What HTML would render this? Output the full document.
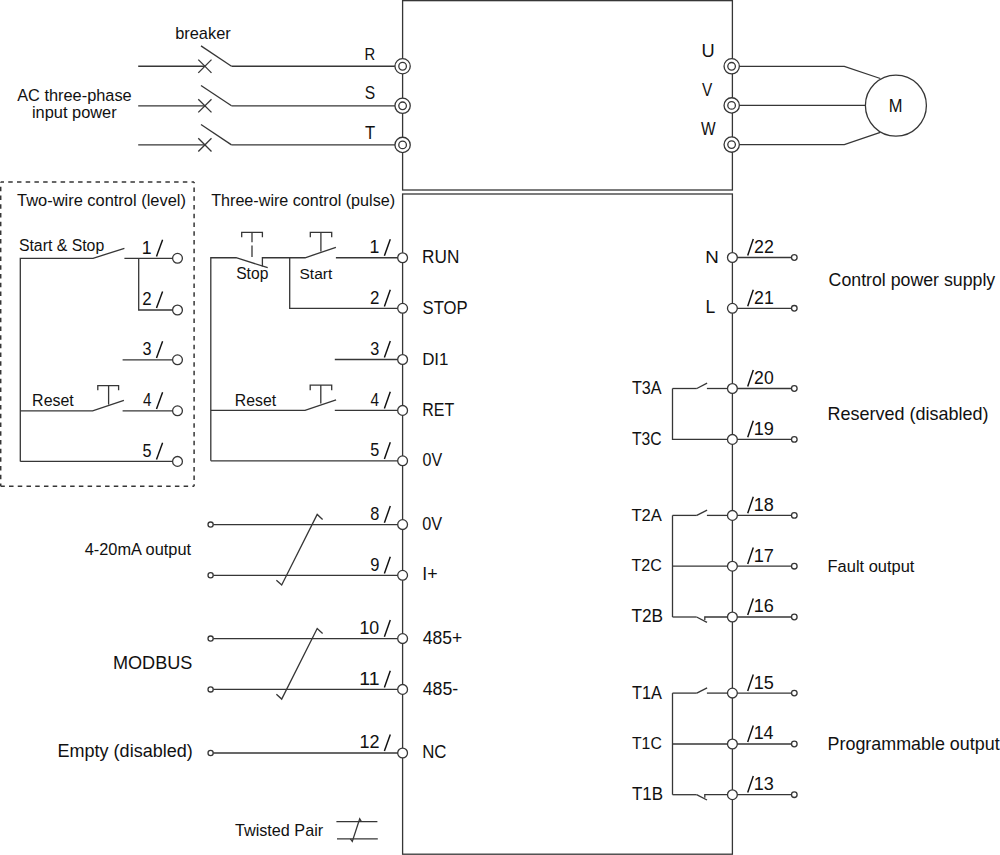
<!DOCTYPE html>
<html><head><meta charset="utf-8"><style>
html,body{margin:0;padding:0;background:#fff;width:1000px;height:855px;overflow:hidden}
svg{display:block}
text{font-family:"Liberation Sans",sans-serif;fill:#111}
</style></head><body>
<svg width="1000" height="855" viewBox="0 0 1000 855">
<rect width="1000" height="855" fill="#fff"/>
<g fill="none" stroke="#363636" stroke-width="1.3" stroke-linecap="butt" stroke-linejoin="miter">
<rect x="402.6" y="0.65" width="329.80" height="189.35" fill="none"/>
<rect x="402.6" y="194" width="329.80" height="660.2" fill="none"/>
<line x1="138.20" y1="66.25" x2="204.90" y2="66.25"/>
<line x1="198.30" y1="59.65" x2="211.50" y2="72.85"/>
<line x1="198.30" y1="72.85" x2="211.50" y2="59.65"/>
<line x1="201.00" y1="45.90" x2="231.50" y2="66.25"/>
<line x1="231.50" y1="66.25" x2="402.60" y2="66.25"/>
<circle cx="402.60" cy="66.25" r="7.65" fill="#fff"/>
<circle cx="402.60" cy="66.25" r="3.80" fill="#fff"/>
<line x1="138.20" y1="105.80" x2="204.90" y2="105.80"/>
<line x1="198.30" y1="99.20" x2="211.50" y2="112.40"/>
<line x1="198.30" y1="112.40" x2="211.50" y2="99.20"/>
<line x1="201.00" y1="85.45" x2="231.50" y2="105.80"/>
<line x1="231.50" y1="105.80" x2="402.60" y2="105.80"/>
<circle cx="402.60" cy="105.80" r="7.65" fill="#fff"/>
<circle cx="402.60" cy="105.80" r="3.80" fill="#fff"/>
<line x1="138.20" y1="144.90" x2="204.90" y2="144.90"/>
<line x1="198.30" y1="138.30" x2="211.50" y2="151.50"/>
<line x1="198.30" y1="151.50" x2="211.50" y2="138.30"/>
<line x1="201.00" y1="124.55" x2="231.50" y2="144.90"/>
<line x1="231.50" y1="144.90" x2="402.60" y2="144.90"/>
<circle cx="402.60" cy="144.90" r="7.65" fill="#fff"/>
<circle cx="402.60" cy="144.90" r="3.80" fill="#fff"/>
<polyline points="732.40,66.30 844.30,66.30 880.30,78.50"/>
<line x1="732.40" y1="105.40" x2="865.40" y2="105.40"/>
<polyline points="732.40,144.60 844.30,144.60 880.30,132.40"/>
<circle cx="895.90" cy="105.60" r="30.50" fill="#fff"/>
<circle cx="731.70" cy="66.30" r="7.65" fill="#fff"/>
<circle cx="731.60" cy="66.30" r="3.80" fill="#fff"/>
<circle cx="731.70" cy="105.40" r="7.65" fill="#fff"/>
<circle cx="731.60" cy="105.40" r="3.80" fill="#fff"/>
<circle cx="731.70" cy="144.60" r="7.65" fill="#fff"/>
<circle cx="731.60" cy="144.60" r="3.80" fill="#fff"/>
<path d="M0.7,182 H194.1" fill="none" stroke-width="1.5" stroke-dasharray="4.5 4.23" stroke-dashoffset="1.2"/>
<path d="M194.1,182 V486.3" fill="none" stroke-width="1.5" stroke-dasharray="4.5 4.23" stroke-dashoffset="3.2"/>
<path d="M0.7,182 V486.3" fill="none" stroke-width="1.5" stroke-dasharray="4.5 4.23" stroke-dashoffset="4.0"/>
<path d="M0.7,486.3 H194.1" fill="none" stroke-width="1.5" stroke-dasharray="4.5 4.23" stroke-dashoffset="0.4"/>
<polyline points="20.30,461.40 20.30,258.30 93.00,258.30 124.40,248.40"/>
<line x1="124.40" y1="258.30" x2="177.50" y2="258.30"/>
<polyline points="138.70,258.30 138.70,310.00 177.50,310.00"/>
<line x1="122.60" y1="359.80" x2="177.50" y2="359.80"/>
<polyline points="20.30,410.80 92.60,410.80 123.90,400.30"/>
<line x1="122.60" y1="410.80" x2="177.50" y2="410.80"/>
<polyline points="97.80,390.30 97.80,385.60 118.60,385.60 118.60,390.30"/>
<line x1="108.60" y1="385.60" x2="108.60" y2="404.60"/>
<line x1="20.30" y1="461.40" x2="177.50" y2="461.40"/>
<circle cx="177.50" cy="258.30" r="4.90" fill="#fff"/>
<circle cx="177.50" cy="310.00" r="4.90" fill="#fff"/>
<circle cx="177.50" cy="359.80" r="4.90" fill="#fff"/>
<circle cx="177.50" cy="410.80" r="4.90" fill="#fff"/>
<circle cx="177.50" cy="461.40" r="4.90" fill="#fff"/>
<polyline points="210.80,460.80 210.80,257.75 236.10,257.75 267.70,267.70"/>
<polyline points="262.40,266.60 262.40,257.75 305.10,257.75 335.90,247.40"/>
<line x1="335.90" y1="257.75" x2="402.60" y2="257.75"/>
<polyline points="289.70,257.75 289.70,308.30 402.60,308.30"/>
<polyline points="241.70,237.30 241.70,232.30 262.40,232.30 262.40,237.30"/>
<line x1="252.00" y1="232.30" x2="252.00" y2="242.20"/>
<line x1="252.00" y1="245.60" x2="252.00" y2="257.00"/>
<polyline points="310.30,237.30 310.30,232.30 331.70,232.30 331.70,237.30"/>
<line x1="320.90" y1="232.30" x2="320.90" y2="251.60"/>
<line x1="334.80" y1="359.50" x2="402.60" y2="359.50"/>
<polyline points="210.80,410.40 305.00,410.40 336.10,399.80"/>
<line x1="334.80" y1="410.40" x2="402.60" y2="410.40"/>
<polyline points="310.20,390.30 310.20,385.10 331.70,385.10 331.70,390.30"/>
<line x1="320.80" y1="385.10" x2="320.80" y2="403.60"/>
<line x1="210.80" y1="460.80" x2="402.60" y2="460.80"/>
<line x1="213.20" y1="524.60" x2="402.60" y2="524.60"/>
<circle cx="210.60" cy="524.60" r="2.60" fill="#fff"/>
<line x1="213.20" y1="575.30" x2="402.60" y2="575.30"/>
<circle cx="210.60" cy="575.30" r="2.60" fill="#fff"/>
<line x1="213.20" y1="638.60" x2="402.60" y2="638.60"/>
<circle cx="210.60" cy="638.60" r="2.60" fill="#fff"/>
<line x1="213.20" y1="689.40" x2="402.60" y2="689.40"/>
<circle cx="210.60" cy="689.40" r="2.60" fill="#fff"/>
<line x1="213.20" y1="753.00" x2="402.60" y2="753.00"/>
<circle cx="210.60" cy="753.00" r="2.60" fill="#fff"/>
<polyline points="276.40,580.20 281.70,585.00 317.20,514.40 322.60,519.40"/>
<polyline points="276.40,694.30 281.70,699.10 317.20,628.50 322.60,633.50"/>
<line x1="336.40" y1="821.70" x2="377.40" y2="821.70"/>
<line x1="337.00" y1="838.90" x2="377.80" y2="838.90"/>
<polyline points="350.40,838.90 352.30,841.40 359.70,818.80 361.40,821.60"/>
<circle cx="402.60" cy="257.75" r="4.90" fill="#fff"/>
<circle cx="402.60" cy="308.30" r="4.90" fill="#fff"/>
<circle cx="402.60" cy="359.50" r="4.90" fill="#fff"/>
<circle cx="402.60" cy="410.40" r="4.90" fill="#fff"/>
<circle cx="402.60" cy="460.80" r="4.90" fill="#fff"/>
<circle cx="402.60" cy="524.60" r="4.90" fill="#fff"/>
<circle cx="402.60" cy="575.30" r="4.90" fill="#fff"/>
<circle cx="402.60" cy="638.60" r="4.90" fill="#fff"/>
<circle cx="402.60" cy="689.40" r="4.90" fill="#fff"/>
<circle cx="402.60" cy="753.00" r="4.90" fill="#fff"/>
<line x1="732.40" y1="257.50" x2="791.50" y2="257.50"/>
<circle cx="794.30" cy="257.50" r="2.80" fill="#fff"/>
<line x1="732.40" y1="308.30" x2="791.50" y2="308.30"/>
<circle cx="794.30" cy="308.30" r="2.80" fill="#fff"/>
<line x1="732.40" y1="388.50" x2="791.50" y2="388.50"/>
<circle cx="794.30" cy="388.50" r="2.80" fill="#fff"/>
<line x1="732.40" y1="439.40" x2="791.50" y2="439.40"/>
<circle cx="794.30" cy="439.40" r="2.80" fill="#fff"/>
<line x1="732.40" y1="515.40" x2="791.50" y2="515.40"/>
<circle cx="794.30" cy="515.40" r="2.80" fill="#fff"/>
<line x1="732.40" y1="566.20" x2="791.50" y2="566.20"/>
<circle cx="794.30" cy="566.20" r="2.80" fill="#fff"/>
<line x1="732.40" y1="617.00" x2="791.50" y2="617.00"/>
<circle cx="794.30" cy="617.00" r="2.80" fill="#fff"/>
<line x1="732.40" y1="693.10" x2="791.50" y2="693.10"/>
<circle cx="794.30" cy="693.10" r="2.80" fill="#fff"/>
<line x1="732.40" y1="744.00" x2="791.50" y2="744.00"/>
<circle cx="794.30" cy="744.00" r="2.80" fill="#fff"/>
<line x1="732.40" y1="794.70" x2="791.50" y2="794.70"/>
<circle cx="794.30" cy="794.70" r="2.80" fill="#fff"/>
<line x1="672.50" y1="388.50" x2="696.80" y2="388.50"/>
<line x1="696.80" y1="388.50" x2="707.10" y2="383.20"/>
<line x1="706.90" y1="388.50" x2="732.40" y2="388.50"/>
<polyline points="672.50,388.50 672.50,439.40 732.40,439.40"/>
<line x1="672.50" y1="515.40" x2="696.80" y2="515.40"/>
<line x1="696.80" y1="515.40" x2="707.10" y2="510.10"/>
<line x1="706.90" y1="515.40" x2="732.40" y2="515.40"/>
<polyline points="672.50,515.40 672.50,617.00"/>
<line x1="672.50" y1="566.20" x2="732.40" y2="566.20"/>
<line x1="672.50" y1="617.00" x2="696.60" y2="617.00"/>
<line x1="696.60" y1="617.00" x2="707.00" y2="622.30"/>
<polyline points="704.80,620.00 704.80,617.00 732.40,617.00"/>
<line x1="672.50" y1="693.10" x2="696.80" y2="693.10"/>
<line x1="696.80" y1="693.10" x2="707.10" y2="687.80"/>
<line x1="706.90" y1="693.10" x2="732.40" y2="693.10"/>
<polyline points="672.50,693.10 672.50,794.70"/>
<line x1="672.50" y1="744.00" x2="732.40" y2="744.00"/>
<line x1="672.50" y1="794.70" x2="696.60" y2="794.70"/>
<line x1="696.60" y1="794.70" x2="707.00" y2="800.00"/>
<polyline points="704.80,797.70 704.80,794.70 732.40,794.70"/>
<circle cx="732.40" cy="257.50" r="4.90" fill="#fff"/>
<circle cx="732.40" cy="308.30" r="4.90" fill="#fff"/>
<circle cx="732.40" cy="388.50" r="4.90" fill="#fff"/>
<circle cx="732.40" cy="439.40" r="4.90" fill="#fff"/>
<circle cx="732.40" cy="515.40" r="4.90" fill="#fff"/>
<circle cx="732.40" cy="566.20" r="4.90" fill="#fff"/>
<circle cx="732.40" cy="617.00" r="4.90" fill="#fff"/>
<circle cx="732.40" cy="693.10" r="4.90" fill="#fff"/>
<circle cx="732.40" cy="744.00" r="4.90" fill="#fff"/>
<circle cx="732.40" cy="794.70" r="4.90" fill="#fff"/>
</g>
<g>
<text transform="translate(175.13,38.90) scale(1.0000,1)" font-size="16.40">breaker</text>
<text transform="translate(17.20,101.00) scale(1.0000,1)" font-size="16.35">AC three-phase</text>
<text transform="translate(31.93,117.50) scale(1.0000,1)" font-size="16.40">input power</text>
<text transform="translate(17.07,205.50) scale(1.0000,1)" font-size="16.43">Two-wire control (level)</text>
<text transform="translate(211.18,205.60) scale(1.0000,1)" font-size="16.15">Three-wire control (pulse)</text>
<text transform="translate(18.89,251.00) scale(1.0000,1)" font-size="15.83">Start &amp; Stop</text>
<text transform="translate(32.12,405.60) scale(1.0000,1)" font-size="15.96">Reset</text>
<text transform="translate(236.20,279.30) scale(1.0000,1)" font-size="15.63">Stop</text>
<text transform="translate(299.50,279.00) scale(1.0000,1)" font-size="15.49">Start</text>
<text transform="translate(234.84,405.70) scale(1.0000,1)" font-size="15.80">Reset</text>
<text transform="translate(84.67,555.00) scale(1.0000,1)" font-size="16.37">4-20mA output</text>
<text transform="translate(112.95,669.00) scale(1.0000,1)" font-size="18.12">MODBUS</text>
<text transform="translate(57.56,757.00) scale(1.0000,1)" font-size="18.02">Empty (disabled)</text>
<text transform="translate(234.98,836.40) scale(1.0000,1)" font-size="16.21">Twisted Pair</text>
<text transform="translate(828.61,285.70) scale(1.0000,1)" font-size="17.74">Control power supply</text>
<text transform="translate(827.46,419.60) scale(1.0000,1)" font-size="17.99">Reserved (disabled)</text>
<text transform="translate(827.58,571.80) scale(1.0000,1)" font-size="16.46">Fault output</text>
<text transform="translate(827.57,749.50) scale(1.0000,1)" font-size="17.90">Programmable output</text>
<text transform="translate(364.62,60.20) scale(0.8504,1)" font-size="17.39">R</text>
<text transform="translate(364.70,99.20) scale(0.8696,1)" font-size="18.00">S</text>
<text transform="translate(365.07,138.60) scale(0.9200,1)" font-size="18.12">T</text>
<text transform="translate(701.43,56.80) scale(0.9684,1)" font-size="18.84">U</text>
<text transform="translate(702.12,95.80) scale(0.8444,1)" font-size="18.26">V</text>
<text transform="translate(700.92,134.90) scale(0.8629,1)" font-size="17.97">W</text>
<text transform="translate(888.68,111.70) scale(0.9177,1)" font-size="17.97">M</text>
<text transform="translate(422.12,263.10) scale(0.9575,1)" font-size="17.97">RUN</text>
<text transform="translate(422.55,313.50) scale(0.9485,1)" font-size="17.57">STOP</text>
<text transform="translate(422.15,364.60) scale(0.9896,1)" font-size="17.10">DI1</text>
<text transform="translate(422.22,415.50) scale(0.9049,1)" font-size="17.68">RET</text>
<text transform="translate(422.56,466.30) scale(0.9080,1)" font-size="17.71">0V</text>
<text transform="translate(422.25,529.60) scale(0.9031,1)" font-size="18.00">0V</text>
<text transform="translate(422.30,580.30) scale(0.9901,1)" font-size="17.97">I+</text>
<text transform="translate(422.65,644.00) scale(0.9895,1)" font-size="17.71">485+</text>
<text transform="translate(422.64,695.00) scale(1.0121,1)" font-size="17.57">485-</text>
<text transform="translate(422.15,758.10) scale(0.9578,1)" font-size="17.57">NC</text>
<text transform="translate(705.30,262.60) scale(1.0781,1)" font-size="17.39">N</text>
<text transform="translate(705.40,313.40) scale(0.9913,1)" font-size="17.68">L</text>
<text transform="translate(631.98,393.80) scale(0.9288,1)" font-size="17.43">T3A</text>
<text transform="translate(631.99,444.60) scale(0.8998,1)" font-size="17.43">T3C</text>
<text transform="translate(631.47,520.70) scale(0.9621,1)" font-size="17.29">T2A</text>
<text transform="translate(631.48,571.40) scale(0.9372,1)" font-size="17.14">T2C</text>
<text transform="translate(631.45,622.10) scale(0.9830,1)" font-size="17.57">T2B</text>
<text transform="translate(631.97,698.60) scale(0.9326,1)" font-size="17.54">T1A</text>
<text transform="translate(631.98,749.40) scale(0.9136,1)" font-size="17.29">T1C</text>
<text transform="translate(631.96,800.10) scale(0.9688,1)" font-size="17.54">T1B</text>
<text transform="translate(141.87,253.50) scale(0.9850,1)" font-size="17.97">1</text>
<line x1="156.50" y1="256.40" x2="162.60" y2="239.70" stroke="#111" stroke-width="1.45"/>
<text transform="translate(142.35,305.20) scale(0.9553,1)" font-size="17.71">2</text>
<line x1="156.50" y1="308.10" x2="162.60" y2="291.40" stroke="#111" stroke-width="1.45"/>
<text transform="translate(142.55,355.00) scale(0.9151,1)" font-size="17.71">3</text>
<line x1="156.50" y1="357.90" x2="162.60" y2="341.20" stroke="#111" stroke-width="1.45"/>
<text transform="translate(142.90,406.00) scale(0.8485,1)" font-size="17.97">4</text>
<line x1="156.50" y1="408.90" x2="162.60" y2="392.20" stroke="#111" stroke-width="1.45"/>
<text transform="translate(142.55,456.60) scale(0.9020,1)" font-size="17.97">5</text>
<line x1="156.50" y1="459.50" x2="162.60" y2="442.80" stroke="#111" stroke-width="1.45"/>
<text transform="translate(369.57,252.95) scale(0.9850,1)" font-size="17.97">1</text>
<line x1="384.40" y1="255.85" x2="390.30" y2="239.15" stroke="#111" stroke-width="1.45"/>
<text transform="translate(370.05,303.50) scale(0.9553,1)" font-size="17.71">2</text>
<line x1="384.40" y1="306.40" x2="390.30" y2="289.70" stroke="#111" stroke-width="1.45"/>
<text transform="translate(370.25,354.70) scale(0.9151,1)" font-size="17.71">3</text>
<line x1="384.40" y1="357.60" x2="390.30" y2="340.90" stroke="#111" stroke-width="1.45"/>
<text transform="translate(370.60,405.60) scale(0.8485,1)" font-size="17.97">4</text>
<line x1="384.40" y1="408.50" x2="390.30" y2="391.80" stroke="#111" stroke-width="1.45"/>
<text transform="translate(370.25,456.00) scale(0.9020,1)" font-size="17.97">5</text>
<line x1="384.40" y1="458.90" x2="390.30" y2="442.20" stroke="#111" stroke-width="1.45"/>
<text transform="translate(370.16,519.80) scale(0.9248,1)" font-size="17.71">8</text>
<line x1="384.40" y1="522.70" x2="390.30" y2="506.00" stroke="#111" stroke-width="1.45"/>
<text transform="translate(370.15,570.50) scale(0.9348,1)" font-size="17.71">9</text>
<line x1="384.40" y1="573.40" x2="390.30" y2="556.70" stroke="#111" stroke-width="1.45"/>
<text transform="translate(359.47,633.80) scale(1.0048,1)" font-size="17.71">10</text>
<line x1="384.40" y1="636.70" x2="390.30" y2="620.00" stroke="#111" stroke-width="1.45"/>
<text transform="translate(359.34,684.60) scale(1.0825,1)" font-size="17.97">11</text>
<line x1="384.40" y1="687.50" x2="390.30" y2="670.80" stroke="#111" stroke-width="1.45"/>
<text transform="translate(359.44,748.20) scale(1.0201,1)" font-size="17.71">12</text>
<line x1="384.40" y1="751.10" x2="390.30" y2="734.40" stroke="#111" stroke-width="1.45"/>
<text transform="translate(754.11,252.90) scale(0.9451,1)" font-size="18.86">22</text>
<line x1="747.70" y1="255.40" x2="753.30" y2="238.90" stroke="#111" stroke-width="1.45"/>
<text transform="translate(754.11,303.70) scale(0.9404,1)" font-size="18.86">21</text>
<line x1="747.70" y1="306.20" x2="753.30" y2="289.70" stroke="#111" stroke-width="1.45"/>
<text transform="translate(754.12,383.90) scale(0.9313,1)" font-size="18.86">20</text>
<line x1="747.70" y1="386.40" x2="753.30" y2="369.90" stroke="#111" stroke-width="1.45"/>
<text transform="translate(753.64,434.80) scale(0.9642,1)" font-size="18.86">19</text>
<line x1="747.70" y1="437.30" x2="753.30" y2="420.80" stroke="#111" stroke-width="1.45"/>
<text transform="translate(753.64,510.80) scale(0.9593,1)" font-size="18.86">18</text>
<line x1="747.70" y1="513.30" x2="753.30" y2="496.80" stroke="#111" stroke-width="1.45"/>
<text transform="translate(753.63,561.60) scale(0.9552,1)" font-size="19.13">17</text>
<line x1="747.70" y1="564.10" x2="753.30" y2="547.60" stroke="#111" stroke-width="1.45"/>
<text transform="translate(753.64,612.40) scale(0.9593,1)" font-size="18.86">16</text>
<line x1="747.70" y1="614.90" x2="753.30" y2="598.40" stroke="#111" stroke-width="1.45"/>
<text transform="translate(753.64,688.50) scale(0.9456,1)" font-size="19.13">15</text>
<line x1="747.70" y1="691.00" x2="753.30" y2="674.50" stroke="#111" stroke-width="1.45"/>
<text transform="translate(753.66,739.40) scale(0.9362,1)" font-size="19.13">14</text>
<line x1="747.70" y1="741.90" x2="753.30" y2="725.40" stroke="#111" stroke-width="1.45"/>
<text transform="translate(753.64,790.10) scale(0.9593,1)" font-size="18.86">13</text>
<line x1="747.70" y1="792.60" x2="753.30" y2="776.10" stroke="#111" stroke-width="1.45"/>
</g>
</svg>
</body></html>
